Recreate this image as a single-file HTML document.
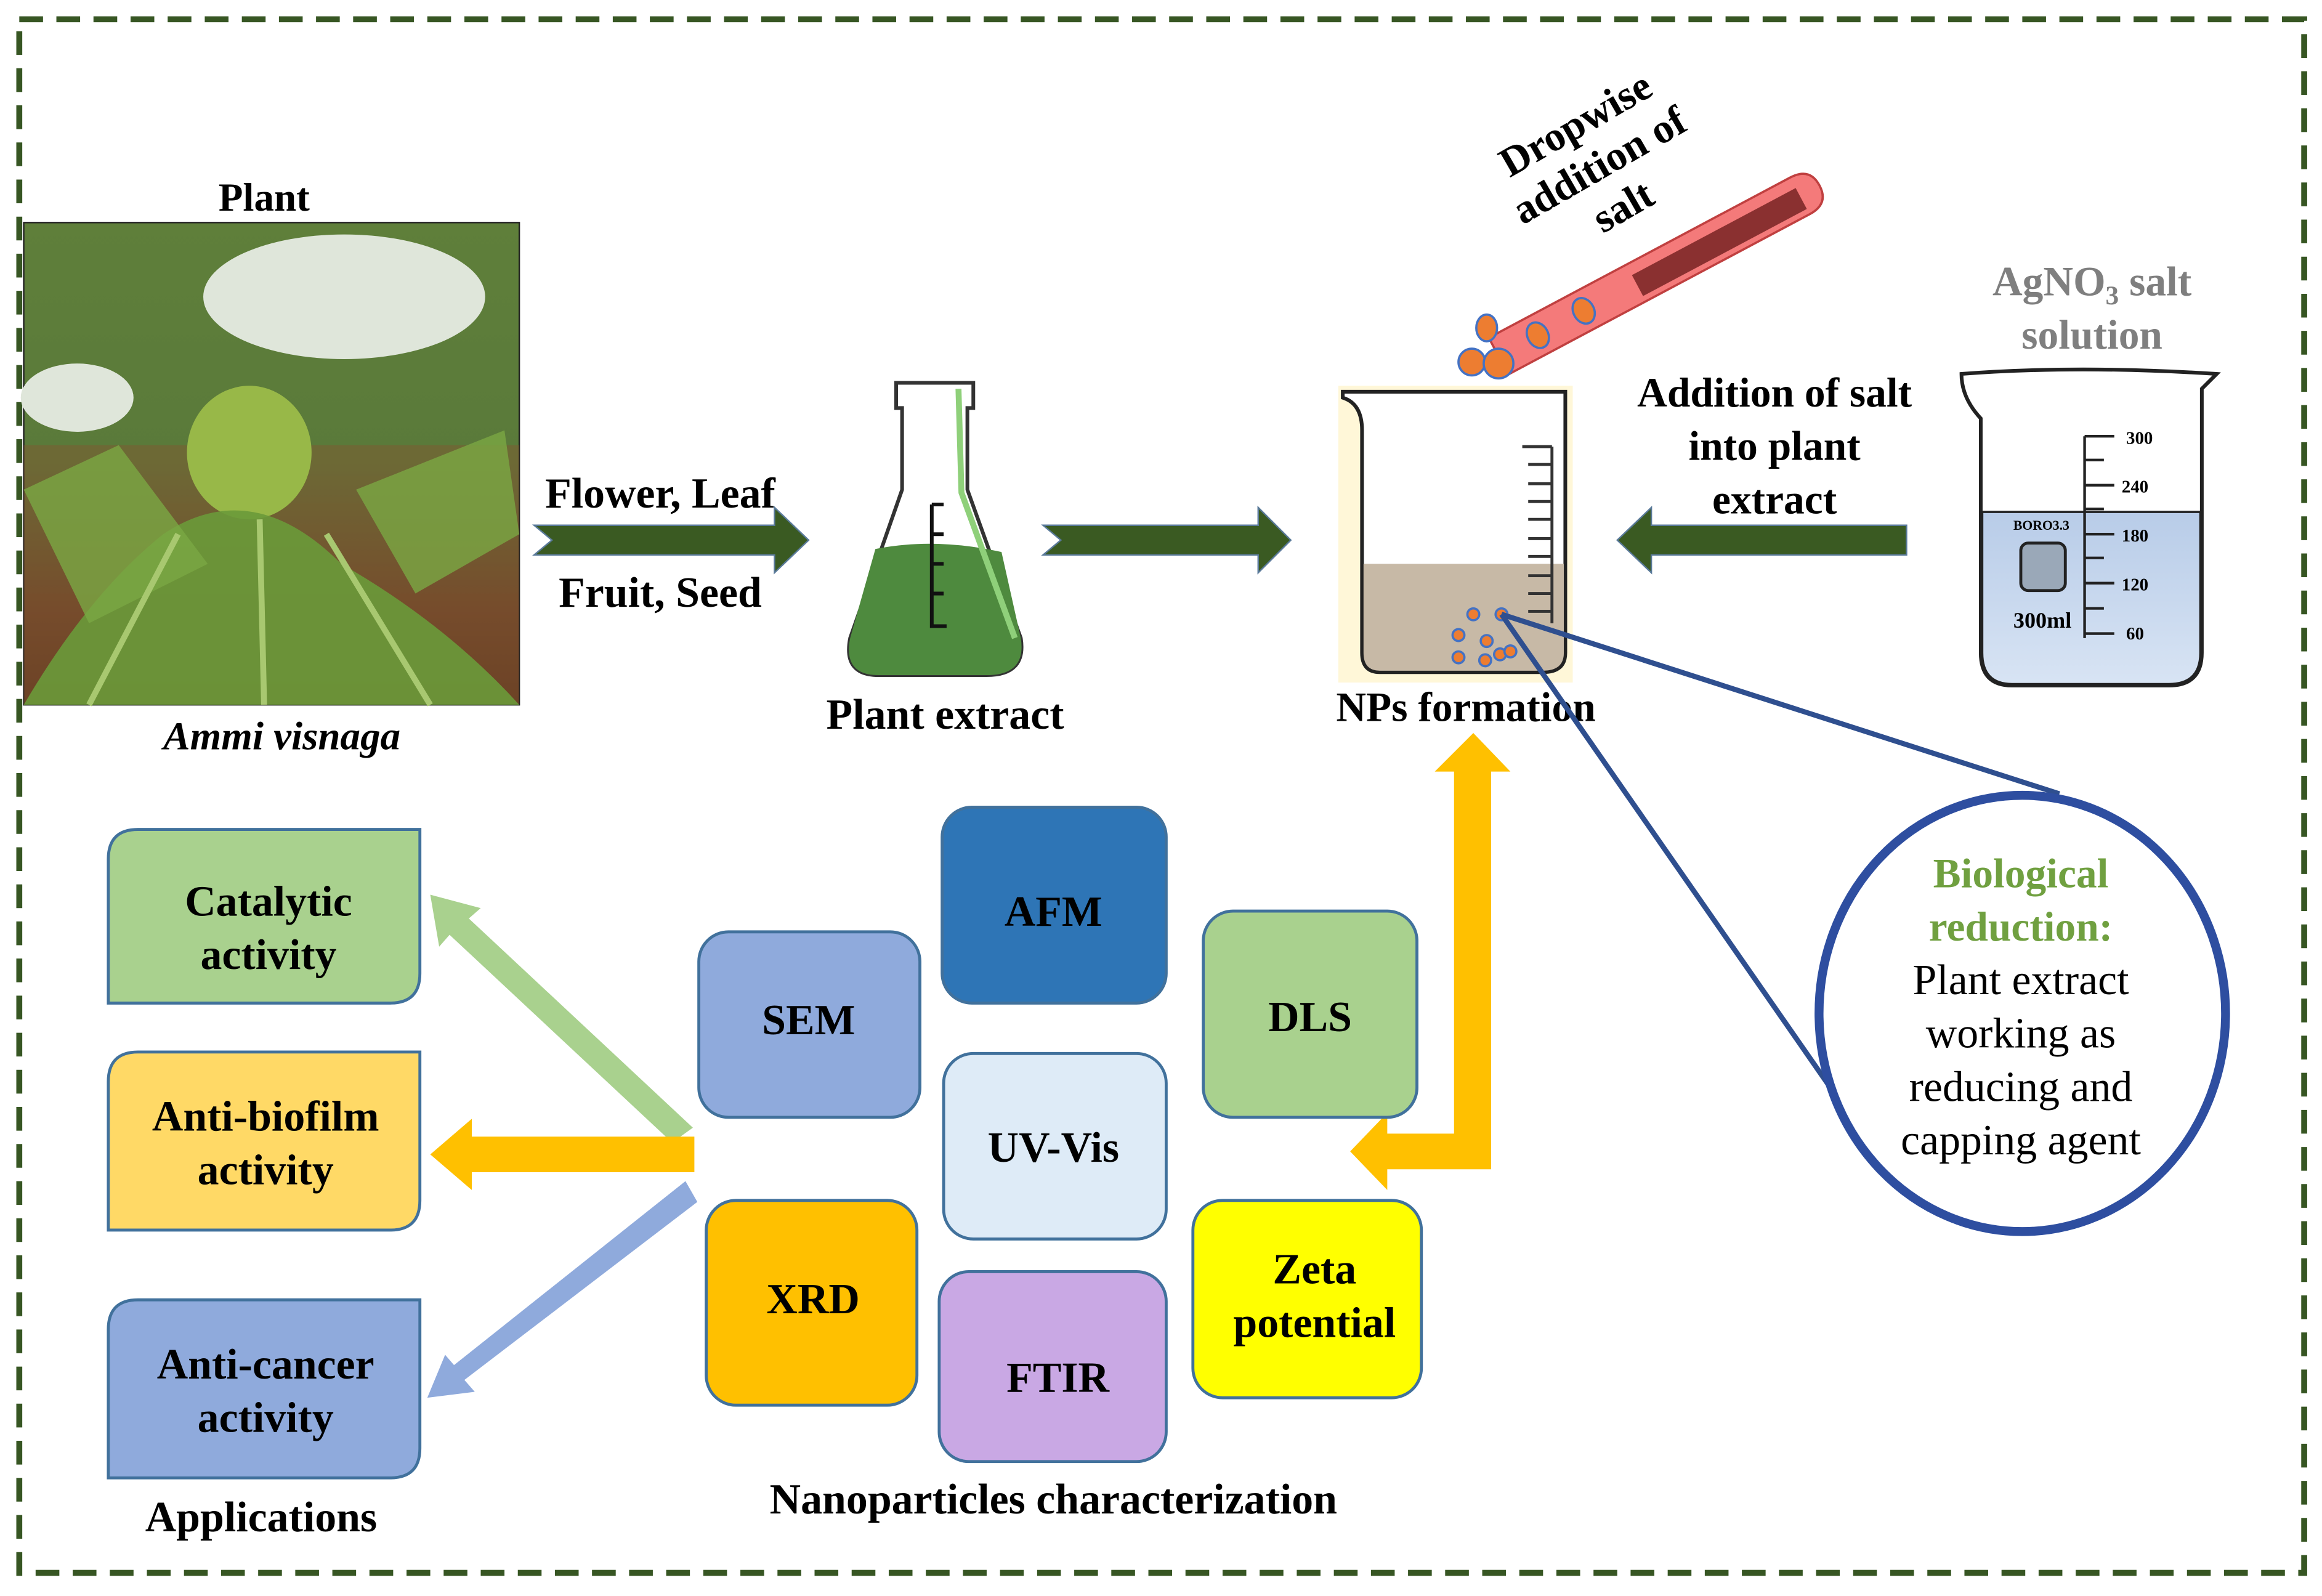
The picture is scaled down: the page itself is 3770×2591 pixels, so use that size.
<!DOCTYPE html>
<html><head><style>html,body{margin:0;padding:0;background:#fff}svg{display:block}
text{font-family:"Liberation Serif",serif;font-weight:bold;fill:#000}</style></head>
<body>
<svg width="3770" height="2591" viewBox="0 0 1565 1075.6" preserveAspectRatio="none" xmlns="http://www.w3.org/2000/svg">
<rect x="0" y="0" width="1565" height="1076" fill="#fff"/>
<rect x="13" y="13" width="1540" height="1047" fill="none" stroke="#375623" stroke-width="4" stroke-dasharray="16 9"/>

<!-- Plant photo -->
<text x="178" y="142" font-size="27" text-anchor="middle">Plant</text>
<defs>
<linearGradient id="bg" x1="0" y1="0" x2="0" y2="1"><stop offset="0" stop-color="#5f7f3a"/><stop offset="0.5" stop-color="#5a7a3a"/><stop offset="0.8" stop-color="#6a4a2a"/><stop offset="1" stop-color="#5a3a20"/></linearGradient>
<linearGradient id="blue" x1="0" y1="0" x2="0" y2="1"><stop offset="0" stop-color="#b8cce8"/><stop offset="1" stop-color="#d8e4f4"/></linearGradient>
</defs>
<rect x="16" y="150" width="334" height="325" fill="url(#bg)" stroke="#222" stroke-width="1"/>
<rect x="16" y="300" width="334" height="175" fill="#8a5030" opacity="0.4"/>
<ellipse cx="232" cy="200" rx="95" ry="42" fill="#dfe6da"/>
<ellipse cx="52" cy="268" rx="38" ry="23" fill="#dfe6da"/>
<ellipse cx="168" cy="305" rx="42" ry="45" fill="#98b848"/>
<path d="M16 475 Q60 400 110 360 Q170 320 230 380 Q300 420 350 475 Z" fill="#6a9a3a" opacity="0.9"/>
<path d="M16 330 L80 300 L140 380 L60 420 Z M240 330 L340 290 L350 360 L280 400 Z" fill="#7aa844" opacity="0.8"/>
<path d="M175 350 L178 475 M120 360 L60 475 M220 360 L290 475" stroke="#a8c870" stroke-width="4"/>
<text x="190" y="505" font-size="27" font-style="italic" text-anchor="middle">Ammi visnaga</text>

<!-- arrow 1 -->
<path d="M360 354 L522 354 L522 342 L545 364 L522 386 L522 374 L360 374 L372 364 Z" fill="#3a5a22" stroke="#5a7a9a" stroke-width="1"/>
<text x="445" y="342" font-size="29" text-anchor="middle">Flower, Leaf</text>
<text x="445" y="409" font-size="29" text-anchor="middle">Fruit, Seed</text>

<!-- flask -->
<path d="M604 258 L656 258 L656 275 L652 275 L652 330 L688 430 Q692 455 665 455 L592 455 Q568 455 573 430 L608 330 L608 275 L604 275 Z" fill="#fff" stroke="#333" stroke-width="2.5"/>
<path d="M590 370 Q630 362 675 372 L688 430 Q692 455 665 455 L592 455 Q568 455 573 430 Z" fill="#4e8a3e"/>
<path d="M646 262 L648 332 L684 430" fill="none" stroke="#8fd07a" stroke-width="4"/>
<path d="M628 340 L636 340 M628 340 L628 422 L638 422 M628 360 L636 360 M628 380 L636 380 M628 400 L636 400" stroke="#111" stroke-width="2.5" fill="none"/>
<text x="637" y="491" font-size="29" text-anchor="middle">Plant extract</text>

<!-- arrow 2 -->
<path d="M703 354 L848 354 L848 342 L870 364 L848 386 L848 374 L703 374 L715 364 Z" fill="#3a5a22" stroke="#5a7a9a" stroke-width="1"/>

<!-- beaker NPs -->
<rect x="902" y="260" width="158" height="200" fill="#fff3c8" opacity="0.7"/>
<path d="M905 264 L1055 264 L1055 440 Q1055 453 1040 453 L930 453 Q918 453 918 440 L918 290 Q918 272 905 268 Z" fill="#fff" stroke="#222" stroke-width="2.5"/>
<path d="M919 380 L1054 380 L1054 440 Q1054 452 1040 452 L930 452 Q919 452 919 440 Z" fill="#c7b9a6"/>
<g stroke="#333" stroke-width="2"><path d="M1026 301 L1046 301 M1030 313 L1046 313 M1030 326 L1046 326 M1030 338 L1046 338 M1030 350 L1046 350 M1030 363 L1046 363 M1030 375 L1046 375 M1030 388 L1046 388 M1030 400 L1046 400 M1030 412 L1046 412 M1046 301 L1046 420"/></g>
<g fill="#ed7d31" stroke="#4472c4" stroke-width="1.5">
<circle cx="993" cy="414" r="4"/><circle cx="1012" cy="414" r="4"/><circle cx="983" cy="428" r="4"/><circle cx="1002" cy="432" r="4"/><circle cx="983" cy="443" r="4"/><circle cx="1001" cy="445" r="4"/><circle cx="1011" cy="441" r="4"/><circle cx="1018" cy="439" r="4"/>
</g>
<text x="988" y="486" font-size="28" text-anchor="middle">NPs formation</text>

<!-- test tube -->
<g transform="translate(1010,240) rotate(-28)">
<path d="M0 -14 L230 -14 Q245 -14 245 0 Q245 14 230 14 L0 14 Z" fill="#f47a7a" stroke="#c04040" stroke-width="1.5"/>
<rect x="105" y="-6" width="125" height="16" fill="#8a3030"/>
<g fill="#ed7d31" stroke="#4472c4" stroke-width="1.5"><ellipse cx="30" cy="0" rx="7" ry="9"/><ellipse cx="65" cy="0" rx="7" ry="9"/></g>
</g>
<g fill="#ed7d31" stroke="#4472c4" stroke-width="1.5"><ellipse cx="1002" cy="221" rx="7" ry="9"/><circle cx="992" cy="244" r="9"/><circle cx="1010" cy="245" r="10"/></g>
<g transform="translate(1080,115) rotate(-30)">
<text x="0" y="-27" font-size="28" text-anchor="middle">Dropwise</text>
<text x="0" y="5" font-size="28" text-anchor="middle">addition of</text>
<text x="0" y="37" font-size="28" text-anchor="middle">salt</text>
</g>

<!-- arrow 3 left -->
<path d="M1285 354 L1113 354 L1113 342 L1090 364 L1113 386 L1113 374 L1285 374 Z" fill="#3a5a22" stroke="#5a7a9a" stroke-width="1"/>
<text x="1196" y="274" font-size="28" text-anchor="middle">Addition of salt</text>
<text x="1196" y="310" font-size="28" text-anchor="middle">into plant</text>
<text x="1196" y="346" font-size="28" text-anchor="middle">extract</text>

<!-- AgNO3 beaker -->
<text x="1410" y="199" font-size="28" text-anchor="middle" style="fill:#7f7f7f">AgNO<tspan font-size="18" dy="6" style="fill:#7f7f7f">3</tspan><tspan dy="-6" style="fill:#7f7f7f"> salt</tspan></text>
<text x="1410" y="235" font-size="28" text-anchor="middle" style="fill:#7f7f7f">solution</text>
<path d="M1322 252 Q1400 246 1494 252 L1484 262 L1484 440 Q1484 462 1462 462 L1356 462 Q1335 462 1335 440 L1335 282 Q1322 268 1322 252 Z" fill="#fff" stroke="#222" stroke-width="2.5"/>
<path d="M1336 345 L1483 345 L1483 440 Q1483 461 1462 461 L1356 461 Q1336 461 1336 440 Z" fill="url(#blue)" stroke="#222" stroke-width="1.5"/>
<rect x="1362" y="366" width="30" height="32" rx="5" fill="#9aa8b8" stroke="#222" stroke-width="2"/>
<g stroke="#222" stroke-width="1.8" fill="none"><path d="M1405 294 L1405 430 M1405 294 L1425 294 M1405 310 L1418 310 M1405 327 L1425 327 M1405 343 L1418 343 M1405 360 L1425 360 M1405 376 L1418 376 M1405 393 L1425 393 M1405 410 L1418 410 M1405 427 L1425 427"/></g>
<g font-size="12" style="font-family:'Liberation Sans',sans-serif"><text x="1433" y="299">300</text><text x="1430" y="332">240</text><text x="1430" y="365">180</text><text x="1430" y="398">120</text><text x="1433" y="431">60</text><text x="1357" y="423" font-size="15">300ml</text><text x="1357" y="357" font-size="9">BORO3.3</text></g>

<!-- blue lines & circle -->
<line x1="1012" y1="414" x2="1388" y2="535" stroke="#2f4f8f" stroke-width="3.5"/>
<line x1="1012" y1="414" x2="1233" y2="732" stroke="#2f4f8f" stroke-width="3.5"/>
<ellipse cx="1363" cy="683" rx="137" ry="147" fill="#fff" stroke="#2e4ea0" stroke-width="6"/>
<text x="1362" y="598" font-size="28" text-anchor="middle" style="fill:#70a040">Biological</text>
<text x="1362" y="634" font-size="28" text-anchor="middle" style="fill:#70a040">reduction:</text>
<text x="1362" y="670" font-size="29" text-anchor="middle" style="font-weight:normal">Plant extract</text>
<text x="1362" y="706" font-size="29" text-anchor="middle" style="font-weight:normal">working as</text>
<text x="1362" y="742" font-size="29" text-anchor="middle" style="font-weight:normal">reducing and</text>
<text x="1362" y="778" font-size="29" text-anchor="middle" style="font-weight:normal">capping agent</text>

<!-- yellow L arrow -->
<path d="M980 520 L980 764 L935 764 L935 750 L910 776 L935 802 L935 788 L1005 788 L1005 520 L1018 520 L993 494 L967 520 Z" fill="#ffc000"/>

<!-- application boxes -->
<g stroke="#41719c" stroke-width="2">
<path d="M93 559 L283 559 L283 656 Q283 676 263 676 L73 676 L73 579 Q73 559 93 559 Z" fill="#a9d18e"/>
<path d="M93 709 L283 709 L283 809 Q283 829 263 829 L73 829 L73 729 Q73 709 93 709 Z" fill="#ffd966"/>
<path d="M93 876 L283 876 L283 976 Q283 996 263 996 L73 996 L73 896 Q73 876 93 876 Z" fill="#8faadc"/>
</g>
<text x="181" y="617" font-size="29" text-anchor="middle">Catalytic</text>
<text x="181" y="653" font-size="29" text-anchor="middle">activity</text>
<text x="179" y="762" font-size="29" text-anchor="middle">Anti-biofilm</text>
<text x="179" y="798" font-size="29" text-anchor="middle">activity</text>
<text x="179" y="929" font-size="29" text-anchor="middle">Anti-cancer</text>
<text x="179" y="965" font-size="29" text-anchor="middle">activity</text>
<text x="176" y="1032" font-size="29" text-anchor="middle">Applications</text>

<!-- app arrows -->
<path d="M467 760 L453 770 L303 630 L296 638 L290 603 L324 612 L316 619 Z" fill="#a9d18e"/>
<path d="M468 766 L468 790 L318 790 L318 802 L290 778 L318 754 L318 766 Z" fill="#ffc000"/>
<path d="M462 796 L470 810 L313 930 L320 938 L288 942 L300 913 L306 920 Z" fill="#8faadc"/>

<!-- characterization boxes -->
<g stroke="#41719c" stroke-width="2">
<rect x="471" y="628" width="149" height="125" rx="20" fill="#8faadc"/>
<rect x="635" y="544" width="151" height="132" rx="20" fill="#2e75b6"/>
<rect x="636" y="710" width="150" height="125" rx="20" fill="#deebf7"/>
<rect x="811" y="614" width="144" height="139" rx="20" fill="#a9d18e"/>
<rect x="476" y="809" width="142" height="138" rx="20" fill="#ffc000"/>
<rect x="633" y="857" width="153" height="128" rx="20" fill="#c9a8e4"/>
<rect x="804" y="809" width="154" height="133" rx="20" fill="#ffff00"/>
</g>
<text x="545" y="697" font-size="29" text-anchor="middle">SEM</text>
<text x="710" y="624" font-size="29" text-anchor="middle">AFM</text>
<text x="710" y="783" font-size="29" text-anchor="middle">UV-Vis</text>
<text x="883" y="695" font-size="29" text-anchor="middle">DLS</text>
<text x="548" y="885" font-size="29" text-anchor="middle">XRD</text>
<text x="713" y="938" font-size="29" text-anchor="middle">FTIR</text>
<text x="886" y="865" font-size="29" text-anchor="middle">Zeta</text>
<text x="886" y="901" font-size="29" text-anchor="middle">potential</text>
<text x="710" y="1020" font-size="29" text-anchor="middle">Nanoparticles characterization</text>
</svg>
</body></html>
